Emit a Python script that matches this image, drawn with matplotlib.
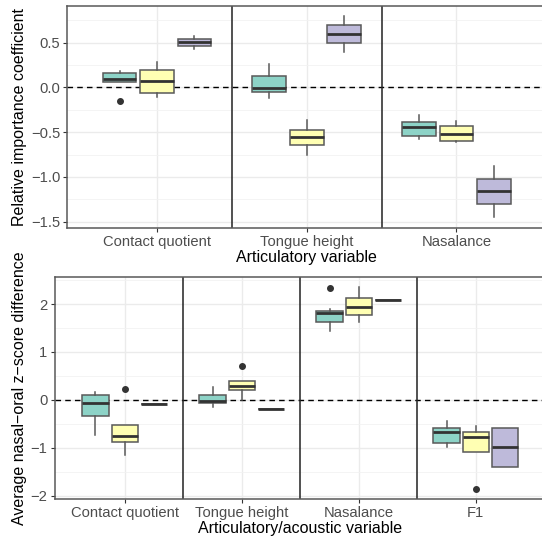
import numpy as np
import matplotlib.pyplot as plt
from matplotlib.ticker import MultipleLocator

plt.rcParams['font.family'] = ['Liberation Sans', 'DejaVu Sans']

# fill colours of the three groups (Set3)
colors = ['#8DD3C7', '#FFFFB3', '#BEBADA']

# ---- top panel: relative importance coefficient ----
top_vars = ['Contact quotient', 'Tongue height', 'Nasalance']
# rows = variable, columns = group
top_med = [[0.093, 0.067, 0.504], [-0.007, -0.559, 0.600], [-0.440, -0.522, -1.159]]
top_q1 = [[0.060, -0.063, 0.467], [-0.056, -0.648, 0.493], [-0.548, -0.600, -1.303]]
top_q3 = [[0.160, 0.196, 0.541], [0.133, -0.473, 0.700], [-0.381, -0.429, -1.018]]
top_lo = [[0.060, -0.111, 0.433], [-0.118, -0.751, 0.397], [-0.581, -0.605, -1.444]]
top_hi = [[0.182, 0.285, 0.578], [0.260, -0.367, 0.797], [-0.303, -0.370, -0.878]]
top_out = [[[-0.156], [], []], [[], [], []], [[], [], []]]

# ---- bottom panel: average nasal-oral z-score difference ----
bot_vars = ['Contact quotient', 'Tongue height', 'Nasalance', 'F1']
bot_med = [[-0.069, -0.764, -0.097], [-0.021, 0.299, -0.194], [1.819, 1.944, 2.076], [-0.667, -0.785, -0.993]]
bot_q1 = [[-0.333, -0.882, -0.097], [-0.076, 0.201, -0.194], [1.618, 1.771, 2.076], [-0.903, -1.090, -1.403]]
bot_q3 = [[0.104, -0.521, -0.097], [0.111, 0.403, -0.194], [1.861, 2.132, 2.076], [-0.597, -0.681, -0.583]]
bot_lo = [[-0.743, -1.146, -0.097], [-0.139, 0.000, -0.194], [1.438, 1.632, 2.076], [-0.986, -1.090, -1.403]]
bot_hi = [[0.160, -0.521, -0.097], [0.264, 0.403, -0.194], [1.889, 2.347, 2.076], [-0.451, -0.542, -0.583]]
bot_out = [[[], [0.229], []], [[], [0.708], []], [[2.340], [], []], [[], [-1.854], []]]


def draw_panel(ax, names, med, q1, q3, lo, hi, out):
    n = len(names)
    for g in range(3):
        stats = []
        for i in range(n):
            stats.append(dict(med=med[i][g], q1=q1[i][g], q3=q3[i][g],
                              whislo=lo[i][g], whishi=hi[i][g], fliers=out[i][g]))
        pos = np.arange(1, n + 1) + (g - 1) * 0.25
        ax.bxp(stats, positions=pos, widths=0.225, patch_artist=True,
               showcaps=False, manage_ticks=False,
               boxprops=dict(facecolor=colors[g], edgecolor='#595959', linewidth=1.1),
               medianprops=dict(color='#333333', linewidth=2),
               whiskerprops=dict(color='#595959', linewidth=1.1),
               flierprops=dict(marker='o', markerfacecolor='#333333',
                               markeredgecolor='#333333', markersize=4))
    ax.set_xlim(0.4, n + 0.6)
    ax.set_xticks(np.arange(1, n + 1))
    ax.set_xticklabels(names)
    for s in range(1, n):
        ax.axvline(s + 0.5, color='#222222', linewidth=1.1, zorder=1.6)
    # reference line sits behind the boxes
    ax.axhline(0, color='black', linestyle=(0, (4, 3)), linewidth=1, zorder=1.5)
    ax.grid(True, which='major', color='#ebebeb', linewidth=1)
    ax.grid(True, which='minor', axis='y', color='#f2f2f2', linewidth=0.6)
    ax.set_axisbelow(True)
    ax.tick_params(axis='both', which='major', length=3, color='#333333',
                   labelcolor='#4d4d4d', labelsize=10.6, pad=2)
    ax.tick_params(axis='both', which='minor', length=0)
    for sp in ax.spines.values():
        sp.set_color('#595959')
        sp.set_linewidth(1.1)


fig = plt.figure(figsize=(5.42, 5.37), dpi=100)

ax1 = fig.add_axes([0.124, 0.576, 0.884, 0.4134])
draw_panel(ax1, top_vars, top_med, top_q1, top_q3, top_lo, top_hi, top_out)
ax1.set_ylim(-1.567, 0.913)
ax1.yaxis.set_major_locator(MultipleLocator(0.5))
ax1.yaxis.set_minor_locator(MultipleLocator(0.25))
ax1.yaxis.set_major_formatter(lambda v, p: f'{v:.1f}'.replace('-', '\u2212'))
ax1.set_xlabel('Articulatory variable', fontsize=11.5, labelpad=1)

ax2 = fig.add_axes([0.1006, 0.0713, 0.9068, 0.4123])
draw_panel(ax2, bot_vars, bot_med, bot_q1, bot_q3, bot_lo, bot_hi, bot_out)
ax2.set_ylim(-2.063, 2.557)
ax2.yaxis.set_major_locator(MultipleLocator(1))
ax2.yaxis.set_minor_locator(MultipleLocator(0.5))
ax2.yaxis.set_major_formatter(lambda v, p: f'{v:.0f}'.replace('-', '\u2212'))
ax2.set_xlabel('Articulatory/acoustic variable', fontsize=11.5, labelpad=1)

fig.text(20 / 542, 1 - 116.7 / 537, 'Relative importance coefficient',
         rotation=90, ha='center', va='center', fontsize=11.5)
fig.text(20 / 542, 1 - 388 / 537, 'Average nasal\u2212oral z\u2212score difference',
         rotation=90, ha='center', va='center', fontsize=11.5)

fig.savefig('out.png', dpi=100)
